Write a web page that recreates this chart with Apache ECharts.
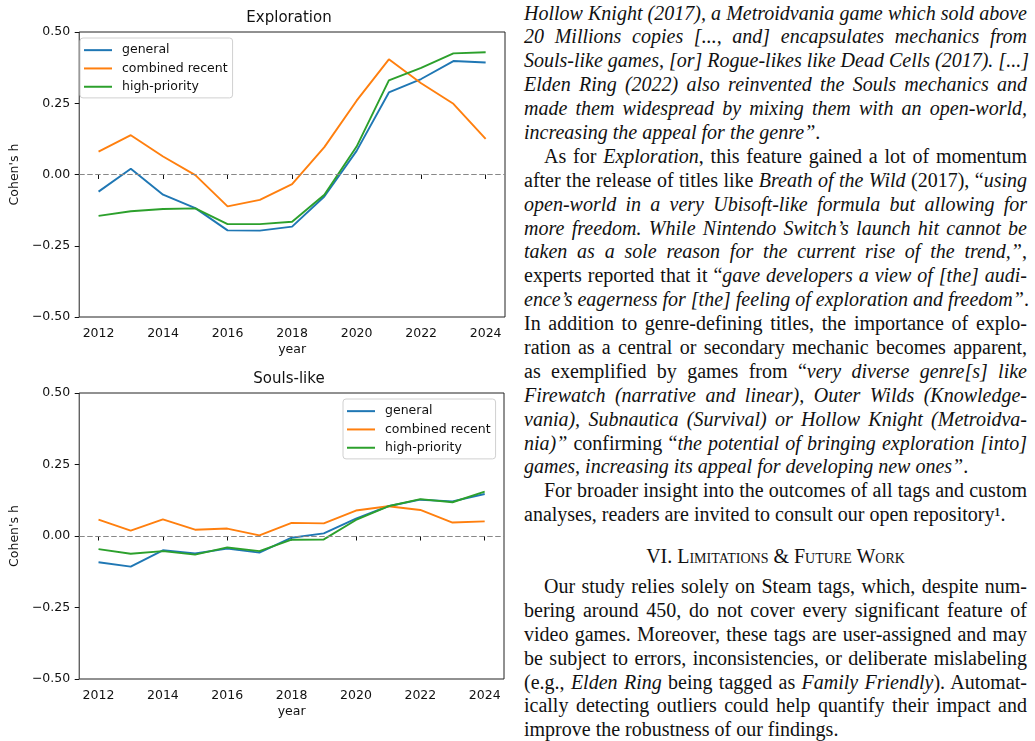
<!DOCTYPE html>
<html>
<head>
<meta charset="utf-8">
<script src="https://cdn.jsdelivr.net/npm/echarts@6/dist/echarts.min.js"></script>
<style>
  body { margin: 0; background: #fff; width: 1035px; height: 741px; overflow: hidden; position: relative; }
  #chart { position: absolute; left: 0; top: 0; width: 520px; height: 741px; }
  #text {
    position: absolute; left: 524px; top: 1.5px; width: 503px;
    font-family: "Liberation Serif", "Times New Roman", serif;
    font-size: 20px; color: #111;
  }
  .ln { height: 23.9px; line-height: 23.9px; white-space: nowrap; text-align: justify; text-align-last: justify; }
  .ln.last { text-align: left; text-align-last: left; }
  .ln.ind { padding-left: 20px; }
  .head { height: 23.9px; line-height: 23.9px; text-align: center; font-variant: small-caps; margin: 18px 0 6px 0; }
  i { font-style: italic; }
</style>
</head>
<body>
<div id="chart"></div>
<div id="text">
  <div class="ln"><i>Hollow Knight (2017), a Metroidvania game which sold above</i></div>
  <div class="ln"><i>20 Millions copies [..., and] encapsulates mechanics from</i></div>
  <div class="ln"><i>Souls-like games, [or] Rogue-likes like Dead Cells (2017). [...]</i></div>
  <div class="ln"><i>Elden Ring (2022) also reinvented the Souls mechanics and</i></div>
  <div class="ln"><i>made them widespread by mixing them with an open-world,</i></div>
  <div class="ln last"><i>increasing the appeal for the genre”</i>.</div>
  <div class="ln ind">As for <i>Exploration</i>, this feature gained a lot of momentum</div>
  <div class="ln">after the release of titles like <i>Breath of the Wild</i> (2017), “<i>using</i></div>
  <div class="ln"><i>open-world in a very Ubisoft-like formula but allowing for</i></div>
  <div class="ln"><i>more freedom. While Nintendo Switch’s launch hit cannot be</i></div>
  <div class="ln"><i>taken as a sole reason for the current rise of the trend,”</i>,</div>
  <div class="ln">experts reported that it “<i>gave developers a view of [the] audi-</i></div>
  <div class="ln"><i>ence’s eagerness for [the] feeling of exploration and freedom”</i>.</div>
  <div class="ln">In addition to genre-defining titles, the importance of explo-</div>
  <div class="ln">ration as a central or secondary mechanic becomes apparent,</div>
  <div class="ln">as exemplified by games from “<i>very diverse genre[s] like</i></div>
  <div class="ln"><i>Firewatch (narrative and linear), Outer Wilds (Knowledge-</i></div>
  <div class="ln"><i>vania), Subnautica (Survival) or Hollow Knight (Metroidva-</i></div>
  <div class="ln"><i>nia)”</i> confirming “<i>the potential of bringing exploration [into]</i></div>
  <div class="ln last"><i>games, increasing its appeal for developing new ones”</i>.</div>
  <div class="ln ind">For broader insight into the outcomes of all tags and custom</div>
  <div class="ln last">analyses, readers are invited to consult our open repository¹.</div>
  <div class="head">VI. Limitations &amp; Future Work</div>
  <div class="ln ind">Our study relies solely on Steam tags, which, despite num-</div>
  <div class="ln">bering around 450, do not cover every significant feature of</div>
  <div class="ln">video games. Moreover, these tags are user-assigned and may</div>
  <div class="ln">be subject to errors, inconsistencies, or deliberate mislabeling</div>
  <div class="ln">(e.g., <i>Elden Ring</i> being tagged as <i>Family Friendly</i>). Automat-</div>
  <div class="ln">ically detecting outliers could help quantify their impact and</div>
  <div class="ln last">improve the robustness of our findings.</div>
</div>
<script>
// data
var years = [2012, 2013, 2014, 2015, 2016, 2017, 2018, 2019, 2020, 2021, 2022, 2023, 2024];
var yearTicks = [2012, 2014, 2016, 2018, 2020, 2022, 2024];
var seriesNames = ["general", "combined recent", "high-priority"];
var colors = ["#1f77b4", "#ff7f0e", "#2ca02c"];

var explGeneral = [-0.060, 0.020, -0.071, -0.118, -0.196, -0.197, -0.183, -0.077, 0.083, 0.288, 0.335, 0.398, 0.393];
var explRecent = [0.080, 0.138, 0.063, -0.002, -0.112, -0.089, -0.034, 0.096, 0.259, 0.404, 0.320, 0.248, 0.125];
var explPriority = [-0.145, -0.129, -0.121, -0.119, -0.174, -0.174, -0.166, -0.071, 0.098, 0.330, 0.374, 0.425, 0.429];

var soulsGeneral = [-0.092, -0.107, -0.050, -0.061, -0.044, -0.058, -0.006, 0.009, 0.061, 0.104, 0.127, 0.121, 0.147];
var soulsRecent = [0.057, 0.019, 0.058, 0.022, 0.026, 0.002, 0.046, 0.044, 0.089, 0.104, 0.091, 0.047, 0.051];
var soulsPriority = [-0.046, -0.062, -0.053, -0.065, -0.040, -0.053, -0.013, -0.012, 0.056, 0.104, 0.129, 0.118, 0.155];

var FONT = "DejaVu Sans";
var INK = "#111";

function pairs(vals) {
  return years.map(function (y, i) { return [y, vals[i]]; });
}

function yFmt(v) {
  return (v < 0 ? "\u2212" : "") + Math.abs(v).toFixed(2);
}

function xAxisFor(gi) {
  return {
    type: "value", gridIndex: gi, min: 2011.4, max: 2024.6,
    name: "year", nameLocation: "middle", nameGap: 26,
    nameTextStyle: { fontFamily: FONT, fontSize: 12.5, color: INK },
    axisLine: { show: false },
    axisTick: { show: true, inside: false, length: 4.5, customValues: yearTicks, lineStyle: { color: INK, width: 1 } },
    axisLabel: { customValues: yearTicks, margin: 10, fontFamily: FONT, fontSize: 12.5, color: INK,
      formatter: function (v) { return String(v); } },
    splitLine: { show: false }
  };
}

function yAxisFor(gi) {
  return {
    type: "value", gridIndex: gi, min: -0.5, max: 0.5, interval: 0.25,
    name: "Cohen's h", nameLocation: "middle", nameGap: 56,
    nameTextStyle: { fontFamily: FONT, fontSize: 12.5, color: INK },
    axisLine: { show: false },
    axisTick: { show: true, inside: false, length: 4.5, lineStyle: { color: INK, width: 1 } },
    axisLabel: { margin: 9, fontFamily: FONT, fontSize: 12.5, color: INK, formatter: yFmt },
    splitLine: { show: false }
  };
}

function lineSeries(gi, idx, vals, withZero) {
  var s = {
    name: seriesNames[idx], type: "line", xAxisIndex: gi, yAxisIndex: gi,
    data: pairs(vals), symbol: "none", color: colors[idx],
    lineStyle: { width: 1.9, color: colors[idx] }
  };
  if (withZero) {
    s.markLine = {
      silent: true, symbol: ["none", "none"], label: { show: false },
      lineStyle: { color: "#888", type: [5.5, 2.5], width: 1 },
      data: [{ yAxis: 0 }]
    };
  }
  return s;
}

function legendAt(left, top) {
  return {
    data: seriesNames, orient: "vertical", left: left, top: top,
    icon: "rect", itemWidth: 28, itemHeight: 2, itemGap: 0,
    padding: [3, 5, 2, 4], borderColor: "#d0d0d0", borderWidth: 1, borderRadius: 3,
    backgroundColor: "rgba(255,255,255,0.8)", selectedMode: false,
    textStyle: { fontFamily: FONT, fontSize: 12.5, color: INK, lineHeight: 18.3, padding: [0, 0, 0, 5] }
  };
}

var chart = echarts.init(document.getElementById("chart"));
chart.setOption({
  animation: false,
  backgroundColor: "#fff",
  title: [
    { text: "Exploration", left: 289, top: 11, textAlign: "center", padding: 0,
      textStyle: { fontFamily: FONT, fontSize: 15, fontWeight: "normal", color: INK } },
    { text: "Souls-like", left: 289, top: 372, textAlign: "center", padding: 0,
      textStyle: { fontFamily: FONT, fontSize: 15, fontWeight: "normal", color: INK } }
  ],
  legend: [legendAt(80, 38), legendAt(343, 399)],
  grid: [
    { left: 73, top: 32, width: 432, height: 285, show: true, borderColor: "#222", borderWidth: 1 },
    { left: 73, top: 393, width: 431, height: 286, show: true, borderColor: "#222", borderWidth: 1 }
  ],
  xAxis: [xAxisFor(0), xAxisFor(1)],
  yAxis: [yAxisFor(0), yAxisFor(1)],
  series: [
    lineSeries(0, 0, explGeneral, true),
    lineSeries(0, 1, explRecent, false),
    lineSeries(0, 2, explPriority, false),
    lineSeries(1, 0, soulsGeneral, true),
    lineSeries(1, 1, soulsRecent, false),
    lineSeries(1, 2, soulsPriority, false)
  ]
});
</script>
</body>
</html>
